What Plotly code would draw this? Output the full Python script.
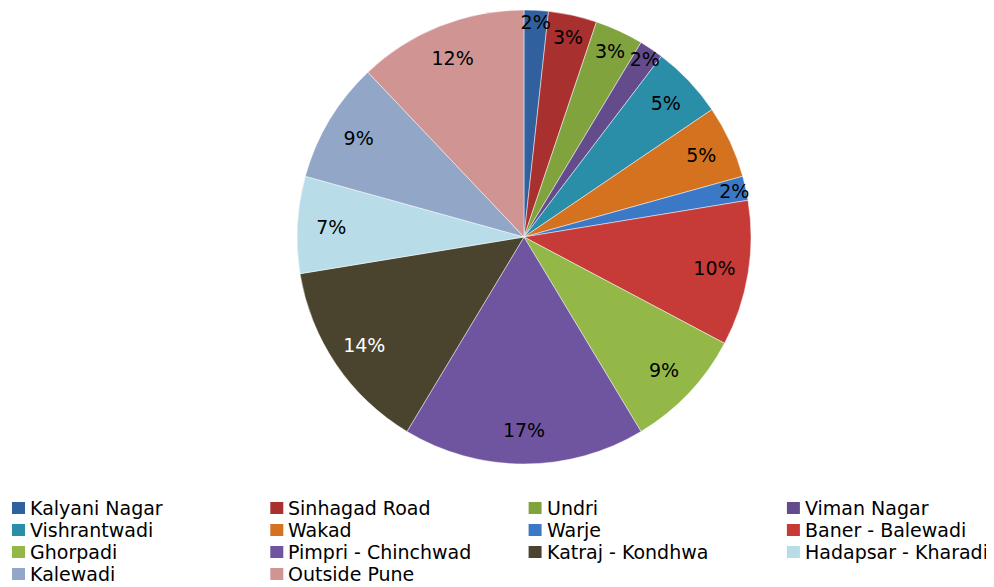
import plotly.graph_objects as go

areas = ["Kalyani Nagar", "Sinhagad Road", "Undri", "Viman Nagar",
         "Vishrantwadi", "Wakad", "Warje", "Baner - Balewadi",
         "Ghorpadi", "Pimpri - Chinchwad", "Katraj - Kondhwa", "Hadapsar - Kharadi",
         "Kalewadi", "Outside Pune"]
counts = [1, 2, 2, 1, 3, 3, 1, 6, 5, 10, 8, 4, 5, 7]
colors = ["#30609e", "#a8302e", "#80a33e", "#634b8c",
          "#2b8ea9", "#d4721f", "#3b78c6", "#c63a38",
          "#93b848", "#6f55a0", "#4a442e", "#b8dde8",
          "#92a6c8", "#d09592"]
text_colors = ["#000000"] * 10 + ["#ffffff"] + ["#000000"] * 3

W, H = 994, 587
OFF = 8  # page body margin of the browser
FONT = "DejaVu Sans"


def px(x):
    return (x - OFF) / W


def py(y):
    return 1 - (y - OFF) / H


pie_domain = dict(x=[px(297), px(751)], y=[py(464), py(10)])

fig = go.Figure()
# coloured slices
fig.add_trace(go.Pie(
    labels=areas, values=counts, sort=False, direction="clockwise", rotation=0,
    marker=dict(colors=colors, line=dict(color="rgba(255,255,255,0.6)", width=0.8)),
    textinfo="none", domain=pie_domain, showlegend=False,
    hoverinfo="label+percent",
))
# percentage labels placed in the outer ring of the pie
fig.add_trace(go.Pie(
    labels=areas, values=counts, sort=False, direction="clockwise", rotation=0,
    hole=0.7,
    marker=dict(colors=["rgba(0,0,0,0)"] * len(areas), line=dict(width=0)),
    texttemplate="%{percent:.0%}", textposition="inside",
    insidetextorientation="horizontal",
    insidetextfont=dict(color=text_colors, size=19, family=FONT),
    domain=pie_domain, showlegend=False, hoverinfo="skip",
))

# legend grid (4 columns) built from the category list
col_x0, col_dx = 12, 258.3
row_y0, row_dy = 508, 22
sw = 13
shapes, annotations = [], []
for i, (name, col) in enumerate(zip(areas, colors)):
    c, r = i % 4, i // 4
    x = col_x0 + c * col_dx
    yc = row_y0 + r * row_dy
    shapes.append(dict(type="rect", xref="paper", yref="paper",
                       x0=px(x), x1=px(x + sw),
                       y0=py(yc + 6), y1=py(yc - 6),
                       fillcolor=col, line=dict(width=0)))
    annotations.append(dict(text=name, xref="paper", yref="paper",
                            x=px(x + 16), y=py(yc),
                            xanchor="left", yanchor="middle", showarrow=False,
                            font=dict(family=FONT, size=19, color="#000000")))

fig.update_layout(
    width=W, height=H,
    margin=dict(l=0, r=0, t=0, b=0),
    paper_bgcolor="white", plot_bgcolor="white",
    uniformtext=dict(minsize=19, mode="show"),
    font=dict(family=FONT, size=19, color="#000000"),
    shapes=shapes, annotations=annotations,
    showlegend=False,
)

fig.write_html("out.html")
